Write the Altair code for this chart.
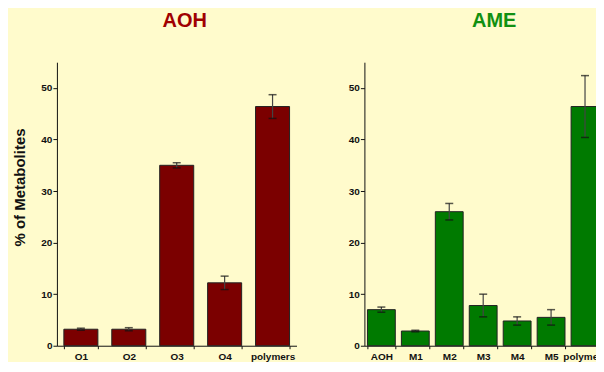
import altair as alt
import pandas as pd

# ---- data ----
aoh_cats = ["O1", "O2", "O3", "O4", "polymers"]
aoh_vals = [3.2, 3.2, 35.0, 12.2, 46.4]
aoh_errs = [0.2, 0.3, 0.5, 1.3, 2.3]

ame_cats = ["AOH", "M1", "M2", "M3", "M4", "M5", "polymers"]
ame_vals = [7.0, 2.85, 26.0, 7.8, 4.8, 5.5, 46.4]
ame_errs = [0.5, 0.15, 1.6, 2.2, 0.8, 1.5, 6.0]

y_ticks = list(range(0, 56, 5))

FONT = "Liberation Sans"
BG = "#FFFBCC"
PLOT_H = 284


def make_df(cats, vals, errs):
    return pd.DataFrame({
        "cat": cats,
        "val": vals,
        "lo": [v - e for v, e in zip(vals, errs)],
        "hi": [v + e for v, e in zip(vals, errs)],
    })


def panel(cats, vals, errs, color, title, title_color, width, pin, pout, dx, show_ytitle):
    df = make_df(cats, vals, errs)
    xenc = alt.X(
        "cat:N",
        sort=cats,
        scale=alt.Scale(paddingInner=pin, paddingOuter=pout),
        axis=alt.Axis(
            title=None, labelAngle=0, tickBand="extent", tickSize=3,
            labelPadding=3, labelFontSize=10, labelFontWeight="bold",
            labelColor="#111", domainColor="#111", tickColor="#111",
            labelFont=FONT, labelOverlap=False,
        ),
    )
    common = dict(
        values=y_ticks,
        labelExpr="datum.value % 10 == 0 ? datum.label : ''",
        grid=False, tickSize=4, labelPadding=1, labelFontSize=10,
        labelFontWeight="bold", labelColor="#111", domainColor="#111",
        tickColor="#111", labelFont=FONT,
    )
    if show_ytitle:
        yaxis = alt.Axis(
            title="% of Metabolites", titleFontSize=15, titleFontWeight="bold",
            titleFont=FONT, titleColor="#111", titleX=-37, titleY=125,
            titleAngle=270, titleAlign="center", titleBaseline="middle",
            **common,
        )
    else:
        yaxis = alt.Axis(title=None, **common)
    yenc = alt.Y("val:Q", scale=alt.Scale(domain=[0, 55], nice=False, zero=True), axis=yaxis)

    base = alt.Chart(df)
    bars = base.mark_bar(color=color, stroke="#222", strokeWidth=1).encode(x=xenc, y=yenc)
    stem = base.mark_rule(color="#444", strokeWidth=1.2).encode(
        x=alt.X("cat:N", sort=cats), y="lo:Q", y2="hi:Q"
    )
    cap_hi = base.mark_tick(color="#111", size=8, thickness=1.5, orient="horizontal").encode(
        x=alt.X("cat:N", sort=cats), y="hi:Q"
    )
    cap_lo = base.mark_tick(color="#111", size=8, thickness=1.5, orient="horizontal").encode(
        x=alt.X("cat:N", sort=cats), y="lo:Q"
    )
    return alt.layer(bars, stem, cap_hi, cap_lo).properties(
        width=width, height=PLOT_H,
        title=alt.TitleParams(
            title, fontSize=20, fontWeight="bold", color=title_color,
            font=FONT, anchor="middle", dx=dx, offset=31,
        ),
    )


left = panel(aoh_cats, aoh_vals, aoh_errs, "#7B0000", "AOH", "#A00000", 240, 0.29, 0.145, 8, True)
right = panel(ame_cats, ame_vals, ame_errs, "#007A00", "AME", "#119011", 238, 0.18, 0.09, 11, False)

chart = alt.hconcat(left, right, spacing=51).properties(
    background=BG,
    padding={"left": 5, "top": 3, "right": -12, "bottom": 0},
).configure_view(stroke=None).configure_concat(spacing=51)

chart.save("out.html", embed_options={"renderer": "svg", "actions": False})
